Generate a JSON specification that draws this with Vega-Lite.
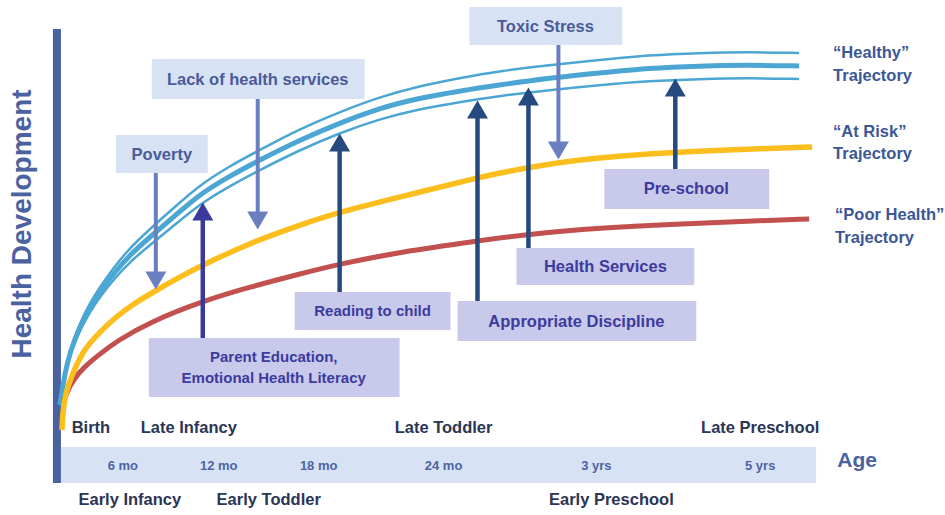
{
  "$schema": "https://vega.github.io/schema/vega-lite/v6.json",
  "width": 945,
  "height": 515,
  "autosize": {"type": "fit", "contains": "padding"},
  "padding": 0,
  "background": "white",
  "config": {"view": {"stroke": null}, "font": "Liberation Sans"},
  "datasets": {
    "curves": [
      {"series": "Healthy upper", "age": 60, "level": 110}, {"series": "Healthy upper", "age": 65, "level": 143}, {"series": "Healthy upper", "age": 70, "level": 165}, {"series": "Healthy upper", "age": 80, "level": 192}, {"series": "Healthy upper", "age": 90, "level": 212}, {"series": "Healthy upper", "age": 100, "level": 228}, {"series": "Healthy upper", "age": 115, "level": 249}, {"series": "Healthy upper", "age": 130, "level": 267}, {"series": "Healthy upper", "age": 150, "level": 286}, {"series": "Healthy upper", "age": 175, "level": 308}, {"series": "Healthy upper", "age": 200, "level": 330}, {"series": "Healthy upper", "age": 230, "level": 349}, {"series": "Healthy upper", "age": 260, "level": 365}, {"series": "Healthy upper", "age": 300, "level": 386}, {"series": "Healthy upper", "age": 340, "level": 403}, {"series": "Healthy upper", "age": 380, "level": 418}, {"series": "Healthy upper", "age": 420, "level": 429}, {"series": "Healthy upper", "age": 460, "level": 437}, {"series": "Healthy upper", "age": 500, "level": 444}, {"series": "Healthy upper", "age": 550, "level": 450}, {"series": "Healthy upper", "age": 600, "level": 455}, {"series": "Healthy upper", "age": 650, "level": 460}, {"series": "Healthy upper", "age": 700, "level": 462}, {"series": "Healthy upper", "age": 750, "level": 463}, {"series": "Healthy upper", "age": 800, "level": 462},
      {"series": "Healthy", "age": 60, "level": 110}, {"series": "Healthy", "age": 65, "level": 142}, {"series": "Healthy", "age": 70, "level": 163}, {"series": "Healthy", "age": 80, "level": 189}, {"series": "Healthy", "age": 90, "level": 208}, {"series": "Healthy", "age": 100, "level": 223}, {"series": "Healthy", "age": 115, "level": 243}, {"series": "Healthy", "age": 130, "level": 260}, {"series": "Healthy", "age": 150, "level": 278}, {"series": "Healthy", "age": 175, "level": 299}, {"series": "Healthy", "age": 200, "level": 321}, {"series": "Healthy", "age": 230, "level": 339}, {"series": "Healthy", "age": 260, "level": 355}, {"series": "Healthy", "age": 300, "level": 375}, {"series": "Healthy", "age": 340, "level": 392}, {"series": "Healthy", "age": 380, "level": 407}, {"series": "Healthy", "age": 420, "level": 417}, {"series": "Healthy", "age": 460, "level": 424}, {"series": "Healthy", "age": 500, "level": 430}, {"series": "Healthy", "age": 550, "level": 437}, {"series": "Healthy", "age": 600, "level": 442}, {"series": "Healthy", "age": 650, "level": 447}, {"series": "Healthy", "age": 700, "level": 449}, {"series": "Healthy", "age": 750, "level": 450}, {"series": "Healthy", "age": 800, "level": 449},
      {"series": "Healthy lower", "age": 60, "level": 110}, {"series": "Healthy lower", "age": 65, "level": 140}, {"series": "Healthy lower", "age": 70, "level": 160}, {"series": "Healthy lower", "age": 80, "level": 185}, {"series": "Healthy lower", "age": 90, "level": 203}, {"series": "Healthy lower", "age": 100, "level": 218}, {"series": "Healthy lower", "age": 115, "level": 237}, {"series": "Healthy lower", "age": 130, "level": 253}, {"series": "Healthy lower", "age": 150, "level": 270}, {"series": "Healthy lower", "age": 175, "level": 290}, {"series": "Healthy lower", "age": 200, "level": 311}, {"series": "Healthy lower", "age": 230, "level": 329}, {"series": "Healthy lower", "age": 260, "level": 345}, {"series": "Healthy lower", "age": 300, "level": 365}, {"series": "Healthy lower", "age": 340, "level": 382}, {"series": "Healthy lower", "age": 380, "level": 396}, {"series": "Healthy lower", "age": 420, "level": 406}, {"series": "Healthy lower", "age": 460, "level": 413}, {"series": "Healthy lower", "age": 500, "level": 419}, {"series": "Healthy lower", "age": 550, "level": 425}, {"series": "Healthy lower", "age": 600, "level": 430}, {"series": "Healthy lower", "age": 650, "level": 434}, {"series": "Healthy lower", "age": 700, "level": 436}, {"series": "Healthy lower", "age": 750, "level": 437}, {"series": "Healthy lower", "age": 800, "level": 436},
      {"series": "At Risk", "age": 62, "level": 85}, {"series": "At Risk", "age": 63, "level": 105}, {"series": "At Risk", "age": 66, "level": 122}, {"series": "At Risk", "age": 70, "level": 135}, {"series": "At Risk", "age": 83, "level": 165}, {"series": "At Risk", "age": 100, "level": 183}, {"series": "At Risk", "age": 117, "level": 199}, {"series": "At Risk", "age": 135, "level": 212}, {"series": "At Risk", "age": 157, "level": 225}, {"series": "At Risk", "age": 180, "level": 238}, {"series": "At Risk", "age": 203, "level": 250}, {"series": "At Risk", "age": 250, "level": 272}, {"series": "At Risk", "age": 300, "level": 290}, {"series": "At Risk", "age": 340, "level": 303}, {"series": "At Risk", "age": 400, "level": 318}, {"series": "At Risk", "age": 477, "level": 337}, {"series": "At Risk", "age": 500, "level": 342}, {"series": "At Risk", "age": 560, "level": 353}, {"series": "At Risk", "age": 620, "level": 359}, {"series": "At Risk", "age": 677, "level": 363}, {"series": "At Risk", "age": 750, "level": 366}, {"series": "At Risk", "age": 813, "level": 368},
      {"series": "Poor Health", "age": 64, "level": 115}, {"series": "Poor Health", "age": 70, "level": 129}, {"series": "Poor Health", "age": 75, "level": 137}, {"series": "Poor Health", "age": 83, "level": 147}, {"series": "Poor Health", "age": 100, "level": 161}, {"series": "Poor Health", "age": 117, "level": 174}, {"series": "Poor Health", "age": 150, "level": 193}, {"series": "Poor Health", "age": 203, "level": 214}, {"series": "Poor Health", "age": 250, "level": 228}, {"series": "Poor Health", "age": 300, "level": 241}, {"series": "Poor Health", "age": 340, "level": 251}, {"series": "Poor Health", "age": 400, "level": 263}, {"series": "Poor Health", "age": 477, "level": 274}, {"series": "Poor Health", "age": 530, "level": 281}, {"series": "Poor Health", "age": 600, "level": 287}, {"series": "Poor Health", "age": 677, "level": 291}, {"series": "Poor Health", "age": 750, "level": 294}, {"series": "Poor Health", "age": 810, "level": 296}
    ],
    "boxes": [
      {"name": "age band", "kind": "band", "age": 61, "age_end": 817, "level": 32, "level_end": 68},
      {"name": "health axis", "kind": "axis", "age": 53, "age_end": 61, "level": 32, "level_end": 486},
      {"name": "Poverty", "kind": "risk", "age": 116, "age_end": 208, "level": 342, "level_end": 380},
      {"name": "Lack of health services", "kind": "risk", "age": 152, "age_end": 365, "level": 416, "level_end": 456},
      {"name": "Toxic Stress", "kind": "risk", "age": 470, "age_end": 623, "level": 470, "level_end": 508},
      {"name": "Pre-school", "kind": "protective", "age": 605, "age_end": 770, "level": 306, "level_end": 346},
      {"name": "Health Services", "kind": "protective", "age": 517, "age_end": 695, "level": 230, "level_end": 267},
      {"name": "Appropriate Discipline", "kind": "protective", "age": 458, "age_end": 697, "level": 174, "level_end": 214},
      {"name": "Reading to child", "kind": "protective", "age": 295, "age_end": 451, "level": 185, "level_end": 223},
      {"name": "Parent Education", "kind": "protective", "age": 149, "age_end": 400, "level": 118, "level_end": 177}
    ],
    "arrows": [
      {"factor": "Poverty", "tone": "risk", "age": 156, "level_from": 342, "level": 234.5},
      {"factor": "Lack of health services", "tone": "risk", "age": 258, "level_from": 416, "level": 294.5},
      {"factor": "Toxic Stress", "tone": "risk", "age": 559, "level_from": 470, "level": 364.5},
      {"factor": "Parent Education", "tone": "family", "age": 203, "level_from": 177, "level": 303.5},
      {"factor": "Reading to child", "tone": "protective", "age": 340, "level_from": 223, "level": 372.5},
      {"factor": "Appropriate Discipline", "tone": "protective", "age": 478, "level_from": 214, "level": 405.5},
      {"factor": "Health Services", "tone": "protective", "age": 529, "level_from": 267, "level": 418.5},
      {"factor": "Pre-school", "tone": "protective", "age": 676, "level_from": 346, "level": 427.5}
    ],
    "labels": [
      {"label": "Poverty", "role": "risk", "age": 162, "level": 360},
      {"label": "Lack of health services", "role": "risk", "age": 258, "level": 435},
      {"label": "Toxic Stress", "role": "risk", "age": 546, "level": 488},
      {"label": "Pre-school", "role": "protective", "age": 687, "level": 326},
      {"label": "Health Services", "role": "protective", "age": 606, "level": 248},
      {"label": "Appropriate Discipline", "role": "protective", "age": 577, "level": 193},
      {"label": "Reading to child", "role": "protective-small", "age": 373, "level": 204},
      {"label": "Parent Education,", "role": "protective-small", "age": 274, "level": 158},
      {"label": "Emotional Health Literacy", "role": "protective-small", "age": 274, "level": 137},
      {"label": "Birth", "role": "stage", "age": 91, "level": 87},
      {"label": "Late Infancy", "role": "stage", "age": 189, "level": 87},
      {"label": "Late Toddler", "role": "stage", "age": 444, "level": 87},
      {"label": "Late Preschool", "role": "stage", "age": 761, "level": 87},
      {"label": "Early Infancy", "role": "stage", "age": 130, "level": 15},
      {"label": "Early Toddler", "role": "stage", "age": 269, "level": 15},
      {"label": "Early Preschool", "role": "stage", "age": 612, "level": 15},
      {"label": "6 mo", "role": "tick", "age": 123, "level": 49},
      {"label": "12 mo", "role": "tick", "age": 219, "level": 49},
      {"label": "18 mo", "role": "tick", "age": 319, "level": 49},
      {"label": "24 mo", "role": "tick", "age": 444, "level": 49},
      {"label": "3 yrs", "role": "tick", "age": 597, "level": 49},
      {"label": "5 yrs", "role": "tick", "age": 761, "level": 49},
      {"label": "“Healthy”", "role": "trajectory", "age": 834, "level": 462},
      {"label": "Trajectory", "role": "trajectory", "age": 834, "level": 439},
      {"label": "“At Risk”", "role": "trajectory", "age": 834, "level": 383},
      {"label": "Trajectory", "role": "trajectory", "age": 834, "level": 361},
      {"label": "“Poor Health”", "role": "trajectory", "age": 836, "level": 300},
      {"label": "Trajectory", "role": "trajectory", "age": 836, "level": 277},
      {"label": "Age", "role": "age-title", "age": 858, "level": 54},
      {"label": "Health Development", "role": "health-title", "age": 23, "level": 291}
    ]
  },
  "layer": [
    {
      "data": {"name": "boxes"},
      "transform": [{"filter": "datum.kind === 'band'"}],
      "mark": {"type": "rect", "fill": "#d7e3f5"},
      "encoding": {
        "x": {"field": "age", "type": "quantitative", "scale": {"domain": [0, 945], "nice": false, "zero": false}, "axis": null},
        "x2": {"field": "age_end"},
        "y": {"field": "level", "type": "quantitative", "scale": {"domain": [0, 515], "nice": false, "zero": false}, "axis": null},
        "y2": {"field": "level_end"}
      }
    },
    {
      "data": {"name": "boxes"},
      "transform": [{"filter": "datum.kind === 'axis'"}],
      "mark": {"type": "rect", "fill": "#4a62a0"},
      "encoding": {
        "x": {"field": "age", "type": "quantitative"},
        "x2": {"field": "age_end"},
        "y": {"field": "level", "type": "quantitative"},
        "y2": {"field": "level_end"}
      }
    },
    {
      "data": {"name": "boxes"},
      "transform": [{"filter": "datum.kind === 'risk'"}],
      "mark": {"type": "rect", "fill": "#d7e3f5"},
      "encoding": {
        "x": {"field": "age", "type": "quantitative"},
        "x2": {"field": "age_end"},
        "y": {"field": "level", "type": "quantitative"},
        "y2": {"field": "level_end"}
      }
    },
    {
      "data": {"name": "boxes"},
      "transform": [{"filter": "datum.kind === 'protective'"}],
      "mark": {"type": "rect", "fill": "#c9c9eb"},
      "encoding": {
        "x": {"field": "age", "type": "quantitative"},
        "x2": {"field": "age_end"},
        "y": {"field": "level", "type": "quantitative"},
        "y2": {"field": "level_end"}
      }
    },
    {
      "data": {"name": "curves"},
      "transform": [{"filter": "datum.series === 'Healthy upper' || datum.series === 'Healthy lower'"}],
      "mark": {"type": "line", "stroke": "#4ba6d3", "strokeWidth": 2.5, "interpolate": "basis"},
      "encoding": {
        "x": {"field": "age", "type": "quantitative"},
        "y": {"field": "level", "type": "quantitative"},
        "detail": {"field": "series"}
      }
    },
    {
      "data": {"name": "curves"},
      "transform": [{"filter": "datum.series === 'Healthy'"}],
      "mark": {"type": "line", "stroke": "#4ba6d3", "strokeWidth": 5, "interpolate": "basis"},
      "encoding": {
        "x": {"field": "age", "type": "quantitative"},
        "y": {"field": "level", "type": "quantitative"}
      }
    },
    {
      "data": {"name": "curves"},
      "transform": [{"filter": "datum.series === 'Poor Health'"}],
      "mark": {"type": "line", "stroke": "#c1504e", "strokeWidth": 5, "interpolate": "basis"},
      "encoding": {
        "x": {"field": "age", "type": "quantitative"},
        "y": {"field": "level", "type": "quantitative"}
      }
    },
    {
      "data": {"name": "curves"},
      "transform": [{"filter": "datum.series === 'At Risk'"}],
      "mark": {"type": "line", "stroke": "#fbbe1c", "strokeWidth": 5.5, "interpolate": "basis"},
      "encoding": {
        "x": {"field": "age", "type": "quantitative"},
        "y": {"field": "level", "type": "quantitative"}
      }
    },
    {
      "data": {"name": "arrows"},
      "transform": [{"filter": "datum.tone === 'risk'"}],
      "mark": {"type": "rule", "stroke": "#6a7fc0", "strokeWidth": 4},
      "encoding": {
        "x": {"field": "age", "type": "quantitative"},
        "y": {"field": "level_from", "type": "quantitative"},
        "y2": {"field": "level"}
      }
    },
    {
      "data": {"name": "arrows"},
      "transform": [{"filter": "datum.tone === 'protective'"}],
      "mark": {"type": "rule", "stroke": "#264a80", "strokeWidth": 4.5},
      "encoding": {
        "x": {"field": "age", "type": "quantitative"},
        "y": {"field": "level_from", "type": "quantitative"},
        "y2": {"field": "level"}
      }
    },
    {
      "data": {"name": "arrows"},
      "transform": [{"filter": "datum.tone === 'family'"}],
      "mark": {"type": "rule", "stroke": "#3a399c", "strokeWidth": 4.5},
      "encoding": {
        "x": {"field": "age", "type": "quantitative"},
        "y": {"field": "level_from", "type": "quantitative"},
        "y2": {"field": "level"}
      }
    },
    {
      "data": {"name": "arrows"},
      "transform": [{"filter": "datum.tone === 'risk'"}],
      "mark": {"type": "point", "shape": "triangle-down", "filled": true, "fill": "#6a7fc0", "size": 440, "opacity": 1, "strokeWidth": 0},
      "encoding": {
        "x": {"field": "age", "type": "quantitative"},
        "y": {"field": "level", "type": "quantitative"}
      }
    },
    {
      "data": {"name": "arrows"},
      "transform": [{"filter": "datum.tone === 'protective'"}],
      "mark": {"type": "point", "shape": "triangle-up", "filled": true, "fill": "#264a80", "size": 440, "opacity": 1, "strokeWidth": 0},
      "encoding": {
        "x": {"field": "age", "type": "quantitative"},
        "y": {"field": "level", "type": "quantitative"}
      }
    },
    {
      "data": {"name": "arrows"},
      "transform": [{"filter": "datum.tone === 'family'"}],
      "mark": {"type": "point", "shape": "triangle-up", "filled": true, "fill": "#3a399c", "size": 440, "opacity": 1, "strokeWidth": 0},
      "encoding": {
        "x": {"field": "age", "type": "quantitative"},
        "y": {"field": "level", "type": "quantitative"}
      }
    },
    {
      "data": {"name": "labels"},
      "transform": [{"filter": "datum.role === 'risk'"}],
      "mark": {"type": "text", "fontSize": 16.5, "fontWeight": "bold", "fill": "#4a5b98", "align": "center", "baseline": "middle"},
      "encoding": {
        "x": {"field": "age", "type": "quantitative"},
        "y": {"field": "level", "type": "quantitative"},
        "text": {"field": "label"}
      }
    },
    {
      "data": {"name": "labels"},
      "transform": [{"filter": "datum.role === 'protective'"}],
      "mark": {"type": "text", "fontSize": 16.5, "fontWeight": "bold", "fill": "#3c3b9e", "align": "center", "baseline": "middle"},
      "encoding": {
        "x": {"field": "age", "type": "quantitative"},
        "y": {"field": "level", "type": "quantitative"},
        "text": {"field": "label"}
      }
    },
    {
      "data": {"name": "labels"},
      "transform": [{"filter": "datum.role === 'protective-small'"}],
      "mark": {"type": "text", "fontSize": 15, "fontWeight": "bold", "fill": "#3c3b9e", "align": "center", "baseline": "middle"},
      "encoding": {
        "x": {"field": "age", "type": "quantitative"},
        "y": {"field": "level", "type": "quantitative"},
        "text": {"field": "label"}
      }
    },
    {
      "data": {"name": "labels"},
      "transform": [{"filter": "datum.role === 'stage'"}],
      "mark": {"type": "text", "fontSize": 16.5, "fontWeight": "bold", "fill": "#2b3555", "align": "center", "baseline": "middle"},
      "encoding": {
        "x": {"field": "age", "type": "quantitative"},
        "y": {"field": "level", "type": "quantitative"},
        "text": {"field": "label"}
      }
    },
    {
      "data": {"name": "labels"},
      "transform": [{"filter": "datum.role === 'tick'"}],
      "mark": {"type": "text", "fontSize": 13, "fontWeight": "bold", "fill": "#4d63a3", "align": "center", "baseline": "middle"},
      "encoding": {
        "x": {"field": "age", "type": "quantitative"},
        "y": {"field": "level", "type": "quantitative"},
        "text": {"field": "label"}
      }
    },
    {
      "data": {"name": "labels"},
      "transform": [{"filter": "datum.role === 'trajectory'"}],
      "mark": {"type": "text", "fontSize": 16.5, "fontWeight": "bold", "fill": "#3c5796", "align": "left", "baseline": "middle"},
      "encoding": {
        "x": {"field": "age", "type": "quantitative"},
        "y": {"field": "level", "type": "quantitative"},
        "text": {"field": "label"}
      }
    },
    {
      "data": {"name": "labels"},
      "transform": [{"filter": "datum.role === 'age-title'"}],
      "mark": {"type": "text", "fontSize": 21, "fontWeight": "bold", "fill": "#4a62a0", "align": "center", "baseline": "middle"},
      "encoding": {
        "x": {"field": "age", "type": "quantitative"},
        "y": {"field": "level", "type": "quantitative"},
        "text": {"field": "label"}
      }
    },
    {
      "data": {"name": "labels"},
      "transform": [{"filter": "datum.role === 'health-title'"}],
      "mark": {"type": "text", "fontSize": 28, "fontWeight": "bold", "fill": "#4a62a0", "align": "center", "baseline": "middle", "angle": 270},
      "encoding": {
        "x": {"field": "age", "type": "quantitative"},
        "y": {"field": "level", "type": "quantitative"},
        "text": {"field": "label"}
      }
    }
  ]
}
